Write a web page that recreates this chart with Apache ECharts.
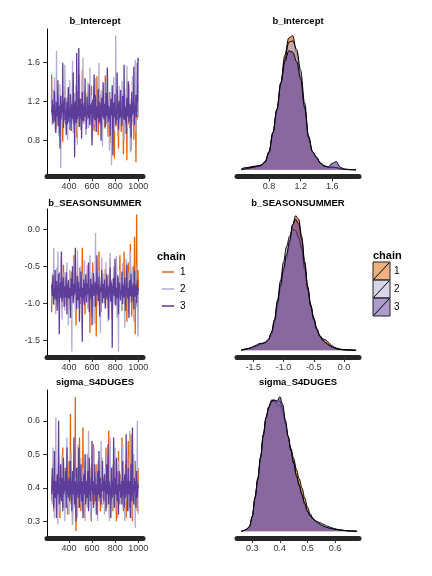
<!DOCTYPE html>
<html><head><meta charset="utf-8">
<script src="https://cdn.jsdelivr.net/npm/echarts@6/dist/echarts.min.js"></script>
<style>html,body{margin:0;padding:0;background:#fff}#c{width:432px;height:576px}</style>
</head><body><div id="c"></div>
<script>
const chains = ['1','2','3'];
const chainColors = ['#e66101','#b2abd2','#5e3c99'];
const params = ['b_Intercept','b_SEASONSUMMER','sigma_S4DUGES'];
const iterFirst = 251, iterLast = 1000;
const iterTicks = [400,600,800,1000];

const traceIntercept = [
[1.48,1.06,1.12,1.19,0.98,1.10,1.21,0.99,1.05,1.17,1.16,1.02,0.92,1.14,1.30,1.07,1.08,1.20,1.01,1.11,1.19,0.96,0.88,1.09,1.14,1.23,1.26,1.04,1.03,1.15,1.10,0.93,0.79,1.12,1.22,1.05,1.07,1.18,1.35,1.00,0.97,1.21,1.13,1.08,1.24,0.95,1.02,1.16,1.15,1.06,
 1.08,1.17,0.91,1.03,1.27,1.10,1.12,0.98,1.00,1.21,1.18,1.07,1.41,1.13,1.05,0.97,0.95,1.15,1.20,1.04,1.09,1.19,0.83,1.08,1.16,1.01,1.31,1.12,1.04,0.94,1.11,1.22,0.96,1.06,1.23,1.14,1.06,0.99,1.52,1.11,1.14,1.03,0.99,1.18,1.25,1.09,1.03,1.16,0.87,1.05,
 1.17,1.02,1.29,1.11,1.02,1.19,1.10,0.96,0.94,1.14,1.21,1.06,1.07,1.23,1.36,1.01,0.98,1.12,1.13,1.05,1.19,0.97,0.90,1.16,1.24,1.08,1.05,1.20,1.11,0.99,1.46,1.13,1.00,1.07,0.86,1.18,1.18,1.03,1.09,1.22,1.27,1.00,0.97,1.15,1.15,1.09,1.04,1.21,1.22,1.06,
 1.08,1.19,0.93,1.04,1.47,1.11,1.12,0.97,1.01,1.15,1.20,1.07,0.84,1.13,1.16,1.02,1.30,1.09,1.05,1.18,0.78,1.06,1.14,1.21,1.23,0.98,0.99,1.12,1.10,1.03,0.62,1.16,1.19,1.08,1.06,0.95,1.33,1.14,0.95,1.20,1.12,1.01,0.72,1.10,1.26,1.05,1.03,1.17,1.17,0.99,
 0.89,1.12,1.21,1.04,1.07,1.18,0.66,1.09,1.15,0.96,1.28,1.13,0.98,1.07,1.11,1.20,0.60,1.05,1.24,1.14,1.02,0.97,1.38,1.10,0.93,1.17,1.16,1.03,0.70,1.11,1.09,0.99,1.22,1.06,1.00,1.19,0.81,1.08,1.19,1.02,1.06,1.15,0.58,1.12,1.13,1.01,1.25,1.09,1.04,1.13],
[1.20,1.04,0.96,1.15,1.33,1.09,1.08,0.98,1.45,1.12,0.90,1.21,1.17,1.06,1.72,1.13,1.02,0.95,1.26,1.10,0.85,1.18,1.12,1.03,1.38,1.14,0.52,1.08,1.19,0.97,1.05,1.22,1.30,1.07,0.92,1.16,1.15,1.01,1.58,1.11,0.99,1.19,1.24,1.05,1.07,0.94,0.81,1.13,1.34,1.09,
 1.11,1.02,1.42,1.14,0.94,1.07,1.21,0.99,1.03,1.17,1.62,1.10,0.88,1.20,1.16,1.04,1.29,1.12,0.98,1.08,1.37,1.15,1.09,0.96,0.76,1.11,1.25,1.05,1.01,1.19,1.48,1.09,1.13,0.98,0.91,1.14,1.20,1.06,1.06,1.22,1.65,1.03,0.97,1.12,1.31,1.08,1.10,1.00,0.86,1.16,
 1.23,1.07,1.04,1.16,1.40,1.10,0.93,1.05,1.18,0.99,1.55,1.13,1.00,1.20,1.27,1.06,0.80,1.11,1.14,1.02,1.35,1.17,1.07,0.97,0.95,1.12,1.44,1.08,1.12,1.01,0.89,1.15,1.26,1.09,1.03,1.19,1.60,1.04,1.09,0.96,0.98,1.14,1.32,1.10,1.15,1.03,0.74,1.18,1.21,1.07,
 1.06,1.14,1.39,1.02,0.92,1.11,1.24,1.05,1.10,0.98,1.53,1.16,0.97,1.09,1.17,1.21,0.70,1.07,1.30,1.12,1.04,0.95,0.55,1.10,1.22,1.03,1.13,1.18,1.45,1.06,0.90,1.13,1.19,1.00,1.88,1.15,1.01,1.08,1.28,0.99,0.84,1.17,1.15,1.04,1.36,1.11,1.08,0.97,0.96,1.14,
 1.25,1.06,1.41,1.13,0.99,1.18,1.12,1.02,0.79,1.10,1.34,1.05,1.05,1.16,1.20,0.98,1.57,1.12,0.93,1.07,1.16,1.21,1.30,1.03,1.02,1.14,0.68,1.09,1.23,0.97,1.10,1.15,1.46,1.04,0.95,1.19,1.18,1.08,1.07,1.11,1.63,1.00,0.88,1.13,1.27,1.06,1.11,1.17,1.39,1.05],
[1.09,1.14,1.22,1.03,0.98,1.17,1.15,1.07,1.31,1.00,1.03,1.12,0.88,1.20,1.19,1.05,1.07,1.13,1.42,0.99,0.95,1.16,1.13,1.06,0.72,1.10,1.26,1.02,1.01,1.18,1.17,1.09,1.60,1.04,0.93,1.15,1.11,1.21,1.24,1.01,1.04,1.12,0.86,1.08,1.20,0.97,1.08,1.16,1.35,1.07,
 0.99,1.11,1.14,1.04,1.28,1.09,0.90,1.17,1.18,1.02,1.05,1.13,1.50,1.07,0.97,1.19,0.63,1.06,1.21,1.10,1.10,0.98,1.70,1.12,1.02,1.15,1.16,1.05,1.75,1.09,0.94,1.14,1.23,1.03,1.08,1.18,0.82,1.08,1.30,1.01,1.12,1.16,1.00,1.11,1.19,1.04,1.44,1.09,1.06,1.13,
 0.92,1.10,1.25,1.06,1.11,1.16,1.03,1.12,1.38,1.04,0.96,1.14,1.17,1.08,1.09,1.19,0.75,1.07,1.22,1.02,1.13,1.15,1.48,1.09,1.01,1.13,1.27,1.05,0.89,1.11,1.15,1.03,1.07,1.18,1.33,1.06,0.98,1.12,1.20,1.00,1.05,1.17,0.80,1.09,1.24,1.04,1.12,1.14,1.40,1.08,
 1.02,1.13,1.18,1.07,0.94,1.12,1.29,1.05,1.09,1.16,1.55,1.10,0.99,1.08,1.16,1.03,1.06,1.14,0.85,1.11,1.23,1.06,1.11,1.17,1.37,1.02,0.65,1.09,1.19,1.12,1.04,1.15,1.28,1.07,0.97,1.13,1.14,1.01,1.50,1.10,1.08,1.18,0.91,1.06,1.21,1.11,1.03,1.15,1.32,1.08,
 1.10,1.04,0.95,1.13,1.26,1.08,1.16,1.02,1.58,1.11,1.01,1.15,1.12,1.07,0.87,1.12,1.24,1.05,1.07,1.17,1.41,1.09,0.99,1.14,1.18,1.03,1.09,1.16,0.83,1.10,1.30,1.06,1.05,1.13,1.20,1.08,1.56,1.01,0.96,1.15,1.14,1.09,1.27,1.04,1.02,1.12,1.60,1.20,1.65,1.62]
];
const traceSeason = [
[-1.12,-0.80,-0.72,-0.87,-0.88,-0.75,-0.55,-0.83,-0.95,-0.70,-0.78,-0.92,-1.05,-0.77,-0.62,-0.85,-0.84,-0.73,-0.70,-0.96,-0.99,-0.79,-0.58,-0.88,-0.81,-0.71,-0.91,-0.82,-0.66,-0.90,-1.08,-0.76,-0.76,-0.84,-0.48,-0.93,-0.89,-0.74,-0.73,-0.86,-1.02,-0.78,-0.64,-0.89,-0.86,-0.72,-0.79,-0.97,-0.94,-0.81,
 -0.68,-0.85,-0.83,-0.74,-1.10,-0.80,-0.57,-0.91,-0.90,-0.77,-0.74,-0.86,-0.97,-0.70,-0.35,-0.83,-0.82,-0.94,-0.69,-0.79,-1.30,-0.88,-0.77,-0.72,-0.60,-0.84,-0.92,-0.76,-0.85,-0.95,-0.52,-0.81,-1.01,-0.73,-0.71,-0.89,-0.87,-0.78,-0.25,-0.82,-0.80,-0.93,-0.96,-0.75,-0.63,-0.87,-1.15,-0.80,-0.75,-0.90,
 -0.89,-0.76,-0.59,-0.84,-0.98,-0.79,-0.72,-0.90,-0.84,-0.73,-1.40,-0.85,-0.67,-0.81,-0.91,-0.74,-0.78,-0.88,-0.45,-0.80,-1.04,-0.77,-0.81,-0.92,-0.70,-0.83,-0.93,-0.75,-1.45,-0.86,-0.61,-0.79,-0.86,-0.94,-0.76,-0.82,-0.30,-0.87,-0.95,-0.72,-0.73,-0.84,-1.12,-0.78,-0.82,-0.91,-0.65,-0.80,-0.88,-0.74,
 -0.77,-0.86,-0.97,-0.74,-0.54,-0.82,-0.85,-0.93,-0.71,-0.79,-1.06,-0.88,-0.63,-0.76,-0.90,-0.83,-0.80,-0.91,-0.40,-0.78,-0.93,-0.85,-0.69,-0.81,-1.20,-0.73,-0.83,-0.89,-0.58,-0.80,-0.96,-0.75,-0.74,-0.87,-0.87,-0.71,-0.50,-0.84,-1.00,-0.79,-0.79,-0.92,-0.66,-0.82,-0.92,-0.77,-0.35,-0.88,-0.84,-0.74,
 -0.72,-0.85,-1.10,-0.79,-0.62,-0.90,-0.89,-0.76,-0.30,-0.83,-0.97,-0.72,-0.76,-0.88,-0.55,-0.81,-1.25,-0.77,-0.81,-0.93,-0.45,-0.80,-0.94,-0.74,-0.68,-0.86,-0.20,-0.79,-0.86,-0.91,-1.18,-0.75,-0.73,-0.84,-0.50,-0.87,-0.92,-0.78,-0.10,-0.82,-1.42,-0.76,-0.65,-0.89,0.20,-0.73,-0.83,-0.95,-0.55,-0.80],
[-0.80,-0.91,-0.60,-0.79,-1.00,-0.74,-0.25,-0.86,-0.88,-0.72,-0.70,-0.94,-1.15,-0.81,-0.52,-0.87,-0.93,-0.76,-0.30,-0.83,-0.78,-0.97,-1.05,-0.73,-0.66,-0.89,-0.90,-0.78,-0.38,-0.85,-1.22,-0.80,-0.74,-0.92,-0.85,-0.71,-0.58,-0.88,-1.10,-0.77,-0.69,-0.84,-0.95,-0.75,-0.45,-0.90,-0.82,-0.79,-1.30,-0.86,
 -0.72,-0.88,-0.55,-0.81,-1.02,-0.75,-0.87,-0.93,-1.65,-0.78,-0.64,-0.85,-0.91,-0.73,-0.40,-0.87,-0.79,-0.95,-1.12,-0.80,-0.62,-0.84,-0.96,-0.77,-0.28,-0.90,-0.84,-0.74,-1.06,-0.82,-0.70,-0.89,-0.50,-0.79,-0.98,-0.86,-0.76,-0.71,-1.35,-0.83,-0.60,-0.92,-0.89,-0.78,-0.42,-0.85,-1.00,-0.76,-0.73,-0.88,
 -0.86,-0.77,-0.48,-0.84,-1.08,-0.79,-0.68,-0.91,-0.92,-0.74,-0.35,-0.86,-0.81,-0.72,-1.18,-0.83,-0.57,-0.89,-0.94,-0.76,-0.71,-0.87,-1.28,-0.80,-0.63,-0.93,-0.05,-0.78,-0.88,-0.82,-0.75,-0.90,-1.03,-0.73,-0.54,-0.85,-0.90,-0.77,-0.66,-0.88,-1.40,-0.81,-0.80,-0.75,-0.38,-0.86,-0.97,-0.79,-0.70,-0.92,
 -0.59,-0.84,-1.00,-0.77,-0.83,-0.90,-0.44,-0.80,-0.95,-0.73,-0.72,-0.87,-1.25,-0.79,-0.61,-0.92,-0.87,-0.76,-0.32,-0.85,-0.78,-0.89,-1.10,-0.74,-0.67,-0.83,-0.93,-0.78,-0.50,-0.88,-1.02,-0.81,-0.74,-0.94,-0.89,-0.72,-0.36,-0.86,-1.20,-0.79,-0.65,-0.91,-1.65,-0.82,-0.82,-0.75,-0.55,-0.87,-0.97,-0.80,
 -0.71,-0.86,-1.08,-0.78,-0.46,-0.89,-0.86,-0.73,-0.63,-0.84,-1.33,-0.80,-0.77,-0.93,-0.40,-0.76,-0.92,-0.85,-0.69,-0.90,-1.15,-0.77,-0.58,-0.83,-0.85,-0.72,-0.30,-0.88,-1.00,-0.79,-0.74,-0.91,-0.52,-0.81,-0.96,-0.75,-1.25,-0.87,-0.66,-0.82,-0.88,-0.94,-0.48,-0.78,-1.05,-0.84,-0.78,-1.20,-1.45,-0.90],
[-0.75,-0.84,-0.90,-0.73,-0.62,-0.88,-1.02,-0.79,-0.78,-0.91,-0.55,-0.82,-0.95,-0.76,-0.70,-0.87,-1.10,-0.80,-0.83,-0.74,-0.60,-0.89,-1.42,-0.81,-0.88,-0.72,-0.72,-0.93,-0.30,-0.78,-0.98,-0.85,-0.80,-0.71,-0.65,-0.90,-1.05,-0.77,-0.76,-0.86,-0.92,-0.79,-0.58,-0.83,-1.15,-0.75,-0.85,-0.92,-0.69,-0.80,
 -0.94,-0.79,-0.78,-0.87,-1.20,-0.81,-0.66,-0.90,-0.87,-0.74,-0.50,-0.83,-1.00,-0.77,-0.74,-0.89,-0.90,-0.72,-0.25,-0.85,-0.82,-0.93,-1.08,-0.78,-0.63,-0.86,-0.96,-0.75,-0.71,-0.88,-1.25,-0.80,-0.84,-0.91,-0.57,-0.76,-0.93,-0.84,-1.52,-0.79,-0.77,-0.92,-0.68,-0.82,-1.02,-0.73,-0.86,-0.89,-0.61,-0.81,
 -0.99,-0.82,-0.73,-0.88,-0.88,-0.76,-0.45,-0.85,-1.12,-0.79,-0.80,-0.92,-0.67,-0.83,-0.95,-0.74,-1.30,-0.87,-0.76,-0.81,-0.59,-0.90,-0.91,-0.77,-0.83,-0.72,-1.05,-0.86,-0.70,-0.80,-0.35,-0.89,-0.89,-0.75,-0.97,-0.84,-0.64,-0.91,-1.18,-0.78,-0.79,-0.85,-0.86,-0.73,-0.55,-0.88,-1.00,-0.80,-0.74,-0.93,
 -0.92,-0.78,-0.68,-0.86,-1.07,-0.80,-0.81,-0.91,-0.60,-0.75,-0.95,-0.84,-0.76,-0.89,-1.22,-0.79,-0.87,-0.73,-0.52,-0.85,-0.98,-0.82,-0.72,-0.90,-1.60,-0.77,-0.84,-0.87,-0.66,-0.81,-0.90,-0.74,-0.40,-0.88,-1.03,-0.79,-0.78,-0.93,-0.88,-0.76,-0.62,-0.84,-1.15,-0.80,-0.83,-0.72,-0.70,-0.87,-0.96,-0.82,
 -0.81,-0.89,-0.57,-0.78,-1.01,-0.84,-0.75,-0.92,-0.90,-0.76,-0.65,-0.85,-1.10,-0.80,-0.84,-0.73,-0.48,-0.88,-0.93,-0.79,-0.77,-0.86,-1.20,-0.74,-0.69,-0.90,-0.87,-0.81,-0.60,-0.83,-0.99,-0.77,-0.82,-0.91,-0.73,-0.85,-1.08,-0.79,-0.56,-0.87,-0.91,-0.75,-0.79,-0.84,-1.00,-0.78,-0.68,-0.89,-0.85,-0.80]
];
const traceSigma = [
[0.36,0.41,0.44,0.38,0.39,0.42,0.33,0.40,0.47,0.37,0.41,0.44,0.37,0.39,0.43,0.36,0.35,0.42,0.40,0.38,0.49,0.41,0.38,0.43,0.31,0.39,0.42,0.37,0.45,0.40,0.36,0.42,0.52,0.38,0.39,0.41,0.34,0.43,0.41,0.37,0.46,0.40,0.37,0.42,0.43,0.38,0.32,0.41,0.40,0.39,
 0.48,0.40,0.38,0.42,0.62,0.39,0.35,0.41,0.42,0.37,0.29,0.40,0.44,0.38,0.39,0.43,0.36,0.41,0.67,0.39,0.27,0.42,0.41,0.37,0.46,0.40,0.34,0.43,0.38,0.41,0.55,0.38,0.40,0.42,0.33,0.39,0.43,0.40,0.37,0.44,0.58,0.38,0.39,0.41,0.31,0.40,0.45,0.37,0.36,0.42,
 0.42,0.39,0.38,0.41,0.50,0.37,0.34,0.42,0.41,0.38,0.46,0.40,0.37,0.43,0.30,0.39,0.44,0.41,0.39,0.36,0.53,0.40,0.35,0.42,0.40,0.38,0.43,0.41,0.32,0.39,0.47,0.40,0.38,0.43,0.41,0.37,0.36,0.41,0.45,0.39,0.33,0.42,0.40,0.38,0.49,0.40,0.37,0.43,0.42,0.39,
 0.35,0.41,0.44,0.38,0.39,0.42,0.52,0.39,0.34,0.40,0.41,0.37,0.38,0.43,0.57,0.39,0.31,0.41,0.43,0.38,0.40,0.42,0.36,0.40,0.46,0.39,0.33,0.41,0.39,0.43,0.48,0.38,0.37,0.40,0.42,0.39,0.30,0.41,0.45,0.38,0.38,0.42,0.51,0.40,0.35,0.39,0.41,0.43,0.44,0.38,
 0.37,0.41,0.55,0.39,0.40,0.42,0.33,0.40,0.43,0.38,0.38,0.41,0.47,0.39,0.31,0.42,0.41,0.37,0.36,0.40,0.54,0.38,0.39,0.43,0.34,0.40,0.42,0.38,0.56,0.41,0.37,0.39,0.30,0.42,0.44,0.38,0.40,0.41,0.35,0.39,0.48,0.40,0.38,0.42,0.43,0.37,0.33,0.40,0.46,0.41],
[0.41,0.38,0.35,0.42,0.52,0.39,0.38,0.41,0.31,0.40,0.45,0.37,0.61,0.40,0.36,0.43,0.42,0.38,0.29,0.41,0.47,0.39,0.39,0.42,0.33,0.40,0.44,0.38,0.37,0.41,0.50,0.39,0.34,0.42,0.40,0.37,0.46,0.40,0.30,0.41,0.43,0.38,0.38,0.42,0.55,0.39,0.35,0.41,0.41,0.40,
 0.32,0.40,0.44,0.38,0.39,0.42,0.51,0.39,0.36,0.41,0.29,0.40,0.42,0.37,0.48,0.41,0.34,0.39,0.40,0.43,0.37,0.40,0.45,0.38,0.31,0.41,0.53,0.39,0.38,0.42,0.43,0.38,0.35,0.40,0.49,0.39,0.40,0.42,0.33,0.41,0.46,0.38,0.37,0.40,0.42,0.39,0.30,0.41,0.50,0.38,
 0.39,0.42,0.34,0.40,0.44,0.38,0.57,0.41,0.36,0.39,0.41,0.43,0.31,0.40,0.47,0.38,0.38,0.42,0.43,0.39,0.35,0.41,0.52,0.38,0.40,0.42,0.33,0.40,0.45,0.39,0.37,0.41,0.30,0.40,0.48,0.38,0.39,0.42,0.42,0.37,0.36,0.40,0.54,0.39,0.34,0.41,0.44,0.38,0.38,0.42,
 0.41,0.38,0.32,0.40,0.46,0.39,0.37,0.42,0.50,0.38,0.35,0.41,0.43,0.39,0.39,0.40,0.30,0.42,0.55,0.38,0.38,0.41,0.42,0.39,0.34,0.40,0.47,0.38,0.40,0.42,0.36,0.41,0.52,0.39,0.33,0.40,0.44,0.38,0.39,0.42,0.31,0.40,0.48,0.39,0.37,0.41,0.42,0.38,0.35,0.40,
 0.45,0.39,0.38,0.41,0.53,0.38,0.34,0.42,0.41,0.39,0.30,0.40,0.46,0.38,0.39,0.42,0.36,0.40,0.49,0.39,0.33,0.41,0.42,0.38,0.57,0.40,0.37,0.42,0.40,0.39,0.31,0.41,0.44,0.38,0.38,0.40,0.50,0.39,0.35,0.42,0.28,0.40,0.43,0.38,0.39,0.41,0.60,0.39,0.36,0.32],
[0.38,0.41,0.46,0.39,0.40,0.42,0.34,0.40,0.51,0.38,0.37,0.41,0.42,0.39,0.31,0.40,0.44,0.38,0.39,0.42,0.60,0.40,0.35,0.41,0.41,0.37,0.47,0.40,0.36,0.42,0.43,0.39,0.33,0.41,0.49,0.38,0.38,0.42,0.40,0.39,0.45,0.41,0.34,0.40,0.52,0.38,0.39,0.42,0.37,0.40,
 0.43,0.39,0.36,0.41,0.48,0.38,0.40,0.42,0.33,0.40,0.45,0.39,0.38,0.41,0.55,0.38,0.35,0.42,0.41,0.39,0.30,0.40,0.46,0.38,0.39,0.41,0.37,0.43,0.52,0.39,0.34,0.41,0.42,0.38,0.47,0.40,0.36,0.42,0.40,0.39,0.31,0.41,0.44,0.38,0.38,0.40,0.50,0.39,0.35,0.42,
 0.41,0.38,0.37,0.42,0.45,0.39,0.33,0.41,0.49,0.38,0.39,0.40,0.36,0.42,0.43,0.39,0.54,0.41,0.38,0.40,0.34,0.42,0.42,0.38,0.47,0.40,0.36,0.41,0.40,0.38,0.32,0.42,0.45,0.39,0.38,0.41,0.51,0.40,0.37,0.42,0.43,0.38,0.35,0.41,0.41,0.39,0.48,0.40,0.39,0.42,
 0.36,0.41,0.44,0.39,0.40,0.42,0.33,0.40,0.47,0.38,0.38,0.41,0.53,0.39,0.35,0.42,0.42,0.40,0.39,0.37,0.31,0.41,0.46,0.39,0.37,0.42,0.41,0.38,0.55,0.40,0.34,0.41,0.43,0.39,0.38,0.42,0.49,0.40,0.36,0.41,0.40,0.38,0.32,0.42,0.45,0.39,0.39,0.41,0.37,0.40,
 0.42,0.39,0.35,0.41,0.48,0.38,0.39,0.42,0.34,0.40,0.44,0.39,0.37,0.41,0.56,0.38,0.40,0.42,0.33,0.40,0.46,0.39,0.38,0.41,0.42,0.38,0.31,0.40,0.47,0.42,0.36,0.39,0.58,0.41,0.39,0.38,0.35,0.40,0.43,0.39,0.40,0.42,0.34,0.38,0.45,0.41,0.37,0.39,0.41,0.40]
];

const densGridIntercept = [0.45,0.50,0.55,0.60,0.65,0.70,0.75,0.80,0.85,0.90,0.95,1.00,1.05,1.10,1.15,1.20,1.25,1.30,1.35,1.40,1.45,1.50,1.55,1.60,1.65,1.70,1.75,1.80,1.85,1.90];
const densIntercept = [
[0,0.03,0.06,0.08,0.09,0.11,0.19,0.42,0.87,1.40,2.02,2.65,3.05,3.10,2.70,2.15,1.42,0.72,0.40,0.27,0.15,0.08,0.05,0.06,0.05,0.02,0.01,0.005,0.002,0],
[0.02,0.05,0.05,0.06,0.08,0.10,0.17,0.40,0.85,1.38,2.00,2.55,2.95,2.98,2.78,2.30,1.55,0.78,0.42,0.28,0.16,0.10,0.06,0.06,0.05,0.03,0.01,0.005,0.002,0],
[0,0.02,0.04,0.06,0.08,0.10,0.18,0.40,0.86,1.40,2.00,2.50,2.75,2.72,2.50,2.10,1.45,0.75,0.42,0.30,0.15,0.08,0.07,0.15,0.19,0.06,0.02,0.01,0.005,0]
];
const densGridSeason = [-1.70,-1.65,-1.60,-1.55,-1.50,-1.45,-1.40,-1.35,-1.30,-1.25,-1.20,-1.15,-1.10,-1.05,-1.00,-0.95,-0.90,-0.85,-0.80,-0.75,-0.70,-0.65,-0.60,-0.55,-0.50,-0.45,-0.40,-0.35,-0.30,-0.25,-0.20,-0.15,-0.10,-0.05,0.00,0.05,0.10,0.15,0.20];
const densSeason = [
[0,0.01,0.02,0.03,0.05,0.07,0.09,0.11,0.13,0.17,0.27,0.46,0.76,1.08,1.38,1.62,1.86,2.20,2.36,2.30,2.00,1.55,1.12,0.80,0.57,0.38,0.26,0.20,0.18,0.13,0.08,0.05,0.03,0.02,0.012,0.008,0.006,0.003,0],
[0.005,0.02,0.03,0.04,0.06,0.08,0.10,0.12,0.14,0.19,0.31,0.54,0.88,1.22,1.55,1.82,2.00,2.12,2.10,1.98,1.78,1.42,1.06,0.76,0.53,0.36,0.24,0.17,0.13,0.09,0.06,0.035,0.02,0.012,0.008,0.005,0.003,0.001,0],
[0,0.01,0.025,0.04,0.065,0.09,0.12,0.12,0.14,0.19,0.31,0.52,0.84,1.15,1.44,1.68,1.92,2.20,2.30,2.22,1.95,1.52,1.10,0.78,0.55,0.37,0.25,0.18,0.13,0.09,0.06,0.035,0.02,0.012,0.008,0.006,0.004,0.002,0]
];
const densGridSigma = [0.26,0.27,0.28,0.29,0.30,0.31,0.32,0.33,0.34,0.35,0.36,0.37,0.38,0.39,0.40,0.41,0.42,0.43,0.44,0.45,0.46,0.47,0.48,0.49,0.50,0.51,0.52,0.53,0.54,0.55,0.56,0.57,0.58,0.59,0.60,0.61,0.62,0.63,0.64,0.65,0.66,0.67,0.68];
const densSigma = [
[0,0.03,0.10,0.26,0.85,1.95,3.05,4.35,5.70,6.75,7.45,7.85,7.85,7.55,7.55,7.10,6.40,5.60,4.95,4.35,3.70,3.15,2.60,2.00,1.45,1.05,0.78,0.58,0.46,0.36,0.28,0.22,0.18,0.14,0.11,0.09,0.07,0.05,0.035,0.02,0.012,0.006,0],
[0,0.05,0.14,0.30,0.90,2.05,3.20,4.45,5.80,6.85,7.45,7.75,7.80,7.70,7.80,7.35,6.55,5.65,4.80,4.05,3.30,2.70,2.15,1.62,1.18,0.90,0.74,0.62,0.55,0.48,0.40,0.32,0.26,0.20,0.15,0.11,0.08,0.06,0.04,0.025,0.015,0.008,0],
[0,0.04,0.12,0.28,0.88,2.00,3.10,4.40,5.75,6.80,7.40,7.80,7.85,7.80,8.05,7.60,6.65,5.70,4.85,4.10,3.35,2.80,2.22,1.68,1.22,0.92,0.74,0.60,0.48,0.38,0.30,0.23,0.19,0.15,0.12,0.09,0.07,0.05,0.035,0.02,0.012,0.006,0]
];

const valueTicksIntercept = [0.8,1.2,1.6];
const valueTicksSeason = [-1.5,-1.0,-0.5,0.0];
const valueTicksSigma = [0.3,0.4,0.5,0.6];

const traces = [traceIntercept, traceSeason, traceSigma];
const densGrids = [densGridIntercept, densGridSeason, densGridSigma];
const dens = [densIntercept, densSeason, densSigma];
const valueTicks = [valueTicksIntercept, valueTicksSeason, valueTicksSigma];
const traceYRange = [[0.433,1.946],[-1.726,0.274],[0.25,0.692]];
const densXRange = [[0.395,1.938],[-1.77,0.248],[0.2445,0.687]];
const densYMax = [3.10, 2.36, 8.05];

const rowTop = [29, 209, 390];
const rowBottom = [176.5, 357, 538];
const FONT = '"Liberation Sans", Arial, Helvetica, sans-serif';
const fmt1 = (v) => (Math.abs(v) < 1e-9 ? '0.0' : v.toFixed(1));
const fmtInt = (v) => String(Math.round(v));

const grids = [], xAxes = [], yAxes = [], series = [], graphics = [];
for (let r = 0; r < 3; r++) {
  const h = rowBottom[r] - rowTop[r];
  grids.push({left: 47, top: rowTop[r], width: 96, height: h});
  grids.push({left: 237, top: rowTop[r], width: 122, height: h});
  const gT = r * 2, gD = r * 2 + 1;
  const xBar = {show: true, onZero: false, lineStyle: {color: '#262626', width: 5}};
  xAxes.push({gridIndex: gT, type: 'value', min: 211, max: 1040,
    axisLine: xBar, splitLine: {show: false},
    axisTick: {show: true, customValues: iterTicks, length: 5, lineStyle: {color: '#333', width: 1}},
    axisLabel: {customValues: iterTicks, fontSize: 9, color: '#333', fontFamily: FONT, margin: 6, formatter: fmtInt}});
  yAxes.push({gridIndex: gT, type: 'value', min: traceYRange[r][0], max: traceYRange[r][1],
    axisLine: {show: true, onZero: false, lineStyle: {color: '#000', width: 1}}, splitLine: {show: false},
    axisTick: {show: true, customValues: valueTicks[r], length: 4, lineStyle: {color: '#333'}},
    axisLabel: {customValues: valueTicks[r], fontSize: 9, color: '#333', fontFamily: FONT, margin: 7, formatter: fmt1}});
  xAxes.push({gridIndex: gD, type: 'value', min: densXRange[r][0], max: densXRange[r][1],
    axisLine: xBar, splitLine: {show: false},
    axisTick: {show: true, customValues: valueTicks[r], length: 5, lineStyle: {color: '#333', width: 1}},
    axisLabel: {customValues: valueTicks[r], fontSize: 9, color: '#333', fontFamily: FONT, margin: 6, formatter: fmt1}});
  yAxes.push({gridIndex: gD, type: 'value', min: -0.05 * densYMax[r], max: 1.05 * densYMax[r], show: false});

  for (let c = 0; c < chains.length; c++) {
    const vals = traces[r][c];
    const n = vals.length;
    series.push({type: 'line', xAxisIndex: gT, yAxisIndex: gT, showSymbol: false, symbol: 'none',
      data: vals.map((v, i) => [iterFirst + i * (iterLast - iterFirst) / (n - 1), v]),
      lineStyle: {color: chainColors[c], width: 1.3}, z: 2 + c, silent: true});
  }
  for (let c = 0; c < chains.length; c++) {
    const d = dens[r][c];
    series.push({type: 'line', xAxisIndex: gD, yAxisIndex: gD, showSymbol: false, symbol: 'none',
      smooth: 0.35, smoothMonotone: 'x',
      data: densGrids[r].map((x, i) => [x, d[i]]),
      lineStyle: {color: '#000', width: 1},
      areaStyle: {color: chainColors[c], opacity: 0.6, origin: 0},
      z: 2 + c, silent: true});
  }
  const titleY = [21, 203, 382][r];
  graphics.push({type: 'text', x: 95, y: titleY, style: {text: params[r], font: 'bold 9.5px ' + FONT, fill: '#000', textAlign: 'center', textVerticalAlign: 'middle'}});
  graphics.push({type: 'text', x: 298, y: titleY, style: {text: params[r], font: 'bold 9.5px ' + FONT, fill: '#000', textAlign: 'center', textVerticalAlign: 'middle'}});
}

graphics.push({type: 'text', x: 157, y: 257, style: {text: 'chain', font: 'bold 11px ' + FONT, fill: '#000', textVerticalAlign: 'middle'}});
const legLineY = [272, 289, 306];
chains.forEach((ch, c) => {
  graphics.push({type: 'line', shape: {x1: 162, y1: legLineY[c], x2: 174, y2: legLineY[c]}, style: {stroke: chainColors[c], lineWidth: 1.5}});
  graphics.push({type: 'text', x: 180, y: legLineY[c], style: {text: ch, font: '10px ' + FONT, fill: '#000', textVerticalAlign: 'middle'}});
});
graphics.push({type: 'text', x: 373, y: 256, style: {text: 'chain', font: 'bold 11px ' + FONT, fill: '#000', textVerticalAlign: 'middle'}});
const boxTop = [262, 280, 298];
chains.forEach((ch, c) => {
  graphics.push({type: 'rect', shape: {x: 373, y: boxTop[c], width: 17, height: 18}, style: {fill: chainColors[c], opacity: 0.5}});
  graphics.push({type: 'rect', shape: {x: 373, y: boxTop[c], width: 17, height: 18}, style: {fill: 'none', stroke: '#222', lineWidth: 1}});
  graphics.push({type: 'line', shape: {x1: 374, y1: boxTop[c] + 17, x2: 389, y2: boxTop[c] + 1}, style: {stroke: '#000', lineWidth: 1}});
  graphics.push({type: 'text', x: 394, y: boxTop[c] + 9, style: {text: ch, font: '10px ' + FONT, fill: '#000', textVerticalAlign: 'middle'}});
});

const chart = echarts.init(document.getElementById('c'), null, {renderer: 'canvas'});
chart.setOption({
  animation: false,
  backgroundColor: '#fff',
  grid: grids, xAxis: xAxes, yAxis: yAxes, series: series, graphic: graphics
});
</script></body></html>
